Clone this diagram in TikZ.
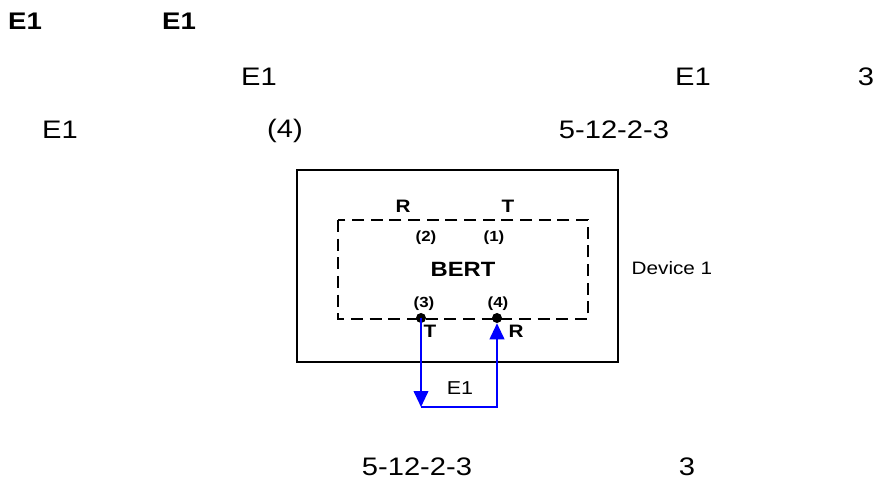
\documentclass[tikz,border=0pt]{standalone}
\usepackage{fontspec}
\setmainfont[FakeStretch=1.15]{Liberation Sans}
\usetikzlibrary{arrows.meta}

\begin{document}
\begin{tikzpicture}[x=0.75pt,y=0.75pt,yscale=-1,xscale=1,
  bigtxt/.style={inner sep=0pt,font=\fontsize{19}{22}\selectfont},
  headtxt/.style={inner sep=0pt,font=\fontsize{18}{21}\selectfont\bfseries},
  pintxt/.style={inner sep=0pt,font=\fontsize{13.5}{15}\selectfont\bfseries},
  numtxt/.style={inner sep=0pt,font=\fontsize{11}{13}\selectfont\bfseries},
  pindot/.style={circle,fill=black,inner sep=0pt,minimum size=7.5},
  loopline/.style={draw={rgb,255:red,0;green,0;blue,255},line width=1.4pt},
  looptip/.style={-{Triangle[length=12pt,width=11pt]}}]
\useasboundingbox (0,0) rectangle (879,481);

% heading and text lines
\node[headtxt] (h1) at (25,21) {E1};
\node[headtxt] (h2) at (179,21) {E1};
\node[bigtxt] (l2a) at (259,77) {E1};
\node[bigtxt] (l2b) at (693,77) {E1};
\node[bigtxt] (l2c) at (866,77) {3};
\node[bigtxt] (l3a) at (60,130) {E1};
\node[bigtxt] (l3b) at (285,131) {(4)};
\node[bigtxt] (l3c) at (614,130) {5-12-2-3};
\node[bigtxt] (l4a) at (417,467) {5-12-2-3};
\node[bigtxt] (l4b) at (687,467) {3};

% device and BERT boxes
\draw[line width=1.1pt] (297,170) rectangle (618,362);
\draw[line width=1.5pt,dash pattern=on 9pt off 5pt] (338,220) rectangle (588,319);
\node[inner sep=0pt,font=\fontsize{13.5}{16}\selectfont] (dev) at (672,268) {Device 1};
\node[inner sep=0pt,font=\fontsize{15.5}{18}\selectfont\bfseries] (bert) at (463,269) {BERT};

% upper ports
\node[pintxt] (rtop) at (403,206) {R};
\node[pintxt] (ttop) at (508,206) {T};
\node[numtxt] (n2) at (426,238) {(2)};
\node[numtxt] (n1) at (494,238) {(1)};

% lower ports
\node[numtxt] (n3) at (424,304) {(3)};
\node[numtxt] (n4) at (498,304) {(4)};
\node[pindot] (p3) at (421,318) {};
\node[pindot] (p4) at (497,318) {};
\node[pintxt] (tbot) at (430,331) {T};
\node[pintxt] (rbot) at (516,331) {R};

% E1 loop
\coordinate (c3) at (421,407);
\coordinate (c4) at (497,407);
\draw[loopline,looptip] (p3.center) -- (c3);
\draw[loopline,looptip] (c3) -- (c4) -- (p4.south);
\node[inner sep=0pt,font=\fontsize{14}{16}\selectfont] (e1loop) at (460,388) {E1};

\end{tikzpicture}
\end{document}
